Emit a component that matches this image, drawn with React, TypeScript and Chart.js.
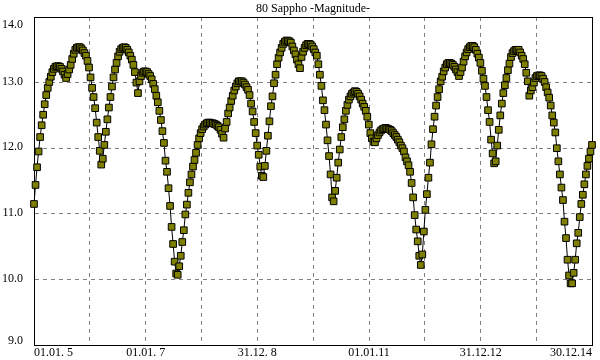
import React, { useEffect, useRef } from 'react';
import { Chart, registerables } from 'chart.js';

Chart.register(...registerables);

const TITLE = '80 Sappho -Magnitude-';
const STEP_DAYS = 10; // one point every 10 days, starting 01.01.2005
const X_MIN_DAYS = 0;
const X_MAX_DAYS = 3650; // 30.12.2014

const xTickDays = [0, 365.25, 730.5, 1095.75, 1461, 1826.25, 2191.5, 2556.75, 2922, 3287.25, 3650];
const xTickLabels = ['01.01. 5', '', '01.01. 7', '', '31.12. 8', '', '01.01.11', '', '31.12.12', '', '30.12.14'];
const yTickValues = [9, 10, 11, 12, 13, 14];
const yTickLabels = ['9.0', '10.0', '11.0', '12.0', '13.0', '14.0'];

const mag2005 = [11.15, 11.44, 11.71, 11.95, 12.17, 12.35, 12.51, 12.67, 12.81, 12.92, 13.01, 13.09, 13.16, 13.21, 13.24, 13.25, 13.25, 13.24, 13.21, 13.17, 13.12, 13.07, 13.13, 13.20, 13.27, 13.36, 13.44, 13.50, 13.53, 13.54, 13.54, 13.52, 13.49, 13.45, 13.41, 13.33, 13.23];
const mag2006 = [13.08, 12.92, 12.78, 12.61, 12.39, 12.17, 11.96, 11.75, 11.84, 12.05, 12.25, 12.44, 12.62, 12.78, 12.94, 13.08, 13.20, 13.30, 13.40, 13.47, 13.51, 13.53, 13.54, 13.53, 13.50, 13.46, 13.41, 13.35, 13.27, 13.16, 13.00, 12.84, 13.02, 13.10, 13.15, 13.17];
const mag2007 = [13.17, 13.16, 13.13, 13.10, 13.05, 12.98, 12.90, 12.80, 12.70, 12.57, 12.43, 12.26, 12.08, 11.81, 11.64, 11.39, 11.12, 10.80, 10.54, 10.27, 10.09, 10.07, 10.20, 10.36, 10.57, 10.75, 10.99, 11.14, 11.32, 11.48, 11.60, 11.72, 11.82, 11.93, 12.05, 12.15, 12.23];
const mag2008 = [12.29, 12.33, 12.36, 12.38, 12.39, 12.39, 12.38, 12.38, 12.37, 12.36, 12.34, 12.32, 12.28, 12.22, 12.16, 12.30, 12.40, 12.53, 12.62, 12.72, 12.80, 12.88, 12.94, 12.99, 13.02, 13.02, 13.02, 13.00, 12.97, 12.93, 12.89, 12.81, 12.68, 12.56, 12.40, 12.23, 12.04];
const mag2009 = [11.90, 11.72, 11.58, 11.56, 11.73, 11.96, 12.19, 12.41, 12.64, 12.79, 12.99, 13.12, 13.28, 13.38, 13.46, 13.53, 13.59, 13.62, 13.64, 13.64, 13.63, 13.61, 13.55, 13.49, 13.43, 13.35, 13.28, 13.22, 13.39, 13.47, 13.53, 13.57, 13.59, 13.59, 13.58, 13.55];
const mag2010 = [13.51, 13.46, 13.41, 13.28, 13.12, 12.95, 12.73, 12.58, 12.36, 12.12, 11.88, 11.60, 11.25, 11.19, 11.35, 11.55, 11.78, 11.98, 12.17, 12.32, 12.44, 12.57, 12.66, 12.74, 12.79, 12.83, 12.85, 12.87, 12.86, 12.83, 12.79, 12.74, 12.68, 12.63, 12.57, 12.48, 12.36];
const mag2011 = [12.23, 12.15, 12.10, 12.09, 12.15, 12.20, 12.24, 12.27, 12.29, 12.30, 12.31, 12.30, 12.29, 12.28, 12.26, 12.23, 12.20, 12.17, 12.13, 12.09, 12.04, 12.00, 11.95, 11.86, 11.80, 11.74, 11.64, 11.47, 11.25, 10.98, 10.76, 10.58, 10.36, 10.22, 10.38, 10.73];
const mag2012 = [11.06, 11.30, 11.55, 11.78, 12.06, 12.29, 12.48, 12.65, 12.78, 12.90, 13.02, 13.09, 13.17, 13.23, 13.28, 13.30, 13.30, 13.29, 13.27, 13.24, 13.20, 13.16, 13.10, 13.16, 13.23, 13.32, 13.40, 13.46, 13.51, 13.54, 13.56, 13.56, 13.54, 13.50, 13.44, 13.38, 13.30];
const mag2013 = [13.18, 13.06, 12.95, 12.78, 12.58, 12.40, 12.13, 11.92, 11.77, 11.80, 12.04, 12.28, 12.50, 12.68, 12.84, 12.96, 13.07, 13.19, 13.29, 13.39, 13.45, 13.48, 13.50, 13.50, 13.50, 13.46, 13.41, 13.36, 13.28, 13.15, 13.02, 12.80, 12.88, 12.93, 13.00, 13.07];
const mag2014 = [13.10, 13.11, 13.11, 13.10, 13.06, 13.01, 12.93, 12.85, 12.77, 12.65, 12.50, 12.39, 12.24, 12.00, 11.80, 11.60, 11.40, 11.21, 10.88, 10.63, 10.30, 10.06, 9.94, 9.94, 10.10, 10.30, 10.55, 10.71, 10.95, 11.15, 11.29, 11.45, 11.60, 11.73, 11.84, 11.95, 12.05];

const magnitudes = [
  ...mag2005, ...mag2006, ...mag2007, ...mag2008, ...mag2009,
  ...mag2010, ...mag2011, ...mag2012, ...mag2013, ...mag2014,
];

const FONT_FAMILY = '"Liberation Serif", "Times New Roman", serif';

const align = (v: number) => Math.round(v - 0.5) + 0.5;

const framePlugin = {
  id: 'frame',
  beforeDatasetsDraw(chart: any) {
    const { ctx, chartArea } = chart;
    const l = align(chartArea.left);
    const r = align(chartArea.right);
    const t = align(chartArea.top);
    const b = align(chartArea.bottom);
    ctx.save();
    ctx.setLineDash([]);
    ctx.strokeStyle = '#000000';
    ctx.lineWidth = 1;
    ctx.strokeRect(l, t, r - l, b - t);
    ctx.restore();
  },
};

const yLabelPlugin = {
  id: 'yLabels',
  afterDraw(chart: any) {
    const { ctx, chartArea } = chart;
    const yScale = chart.scales.y;
    ctx.save();
    ctx.font = `12px ${FONT_FAMILY}`;
    ctx.fillStyle = '#000000';
    ctx.textAlign = 'right';
    ctx.textBaseline = 'middle';
    yTickValues.forEach((v, k) => {
      let py = yScale.getPixelForValue(v) - 1;
      py = Math.max(py, chartArea.top + 8);
      py = Math.min(py, chartArea.bottom - 4.5);
      ctx.fillText(yTickLabels[k], chartArea.left - 11, py);
    });
    ctx.restore();
  },
};

export default function App() {
  const canvasRef = useRef<HTMLCanvasElement>(null);

  useEffect(() => {
    document.body.style.margin = '0';
    const canvas = canvasRef.current;
    if (!canvas) return;

    const points = magnitudes.map((m, i) => ({ x: i * STEP_DAYS, y: m }));

    const chart = new Chart(canvas, {
      type: 'line',
      data: {
        datasets: [
          {
            data: points,
            borderColor: '#000000',
            borderWidth: 1,
            tension: 0,
            pointStyle: 'rect',
            pointRadius: 4.7,
            pointBackgroundColor: '#808000',
            pointBorderColor: '#000000',
            pointBorderWidth: 1,
            clip: false,
          } as any,
        ],
      },
      options: {
        animation: false,
        responsive: false,
        events: [],
        layout: { padding: { left: 0, right: 8, top: 0, bottom: 0 } },
        font: { family: FONT_FAMILY, size: 12 } as any,
        scales: {
          x: {
            type: 'linear',
            min: X_MIN_DAYS,
            max: X_MAX_DAYS,
            afterBuildTicks: (scale: any) => {
              scale.ticks = xTickDays.map((v) => ({ value: v }));
            },
            afterFit: (scale: any) => {
              scale.height = 15;
            },
            ticks: {
              autoSkip: false,
              maxRotation: 0,
              minRotation: 0,
              align: 'inner',
              padding: 1,
              color: '#000000',
              font: { family: FONT_FAMILY, size: 12 },
              callback: (_v: any, i: number) => xTickLabels[i],
            },
            grid: { color: '#808080', lineWidth: 1, drawTicks: false },
            border: { display: true, color: '#000000', width: 1, dash: [4, 4] },
          },
          y: {
            type: 'linear',
            min: 9,
            max: 14,
            afterBuildTicks: (scale: any) => {
              scale.ticks = yTickValues.map((v) => ({ value: v }));
            },
            afterFit: (scale: any) => {
              scale.width = 34;
            },
            ticks: { display: false },
            grid: { color: '#808080', lineWidth: 1, drawTicks: false },
            border: { display: true, color: '#000000', width: 1, dash: [4, 4] },
          },
        },
        plugins: {
          legend: { display: false },
          tooltip: { enabled: false },
          title: {
            display: true,
            text: TITLE,
            fullSize: false,
            color: '#000000',
            font: { family: FONT_FAMILY, size: 12, weight: 'normal', lineHeight: 1 },
            padding: { top: 3, bottom: 2 },
          },
        },
      } as any,
      plugins: [framePlugin, yLabelPlugin],
    });

    return () => {
      chart.destroy();
    };
  }, []);

  return (
    <div style={{ width: 600, height: 360 }}>
      <canvas ref={canvasRef} width={600} height={360} style={{ width: 600, height: 360, display: 'block' }} />
    </div>
  );
}
